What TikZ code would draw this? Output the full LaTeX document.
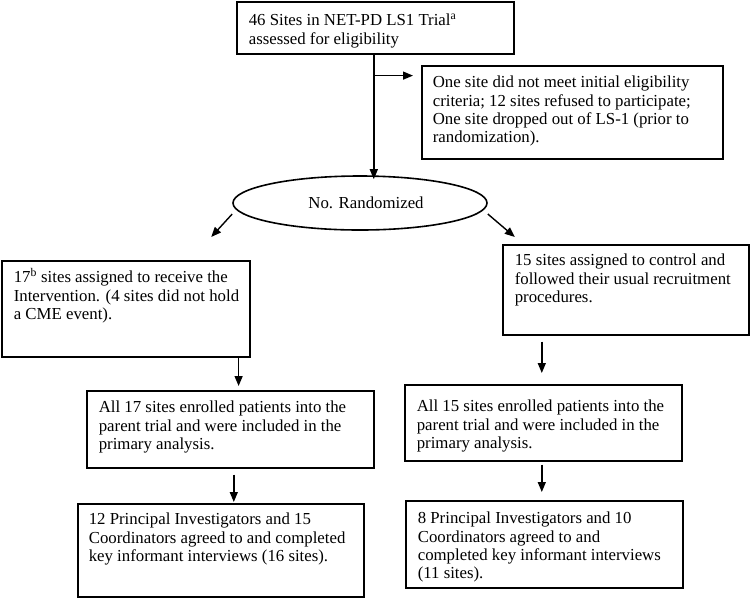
\documentclass[tikz,border=0pt]{standalone}
\usepackage{fontspec}
\setmainfont{Liberation Serif}
\usetikzlibrary{shapes.geometric,arrows.meta,calc}
\newcommand\bxt[5]{\parbox[c][#2][t]{#1}{\raggedright\leftskip=#3\relax\rule{0pt}{#4}#5}}
\begin{document}
\begin{tikzpicture}[x=1pt,y=-1pt,
  font=\fontsize{16.8}{18.3}\selectfont,
  boxn/.style={draw, line width=1.6pt, inner sep=0pt, anchor=north west},
  arr/.style={line width=1.4pt, -{Triangle[length=10pt,width=8pt]}}]
\useasboundingbox (0,0) rectangle (751,598);

\node[boxn] (top) at (236,1) {\bxt{277pt}{52pt}{12pt}{24pt}{46 Sites in NET-PD LS1 Trial\textsuperscript{a}\\assessed for eligibility}};
\node[boxn] (side) at (421,65) {\bxt{301pt}{93pt}{11pt}{22pt}{One site did not meet initial eligibility\\criteria; 12 sites refused to participate;\\One site dropped out of LS-1 (prior to\\randomization).}};
\node[draw, ellipse, line width=1.6pt, minimum width=254pt, minimum height=54pt, inner sep=0pt] (rand) at (360,203) {\hspace*{12pt}No. Randomized};
\node[boxn] (left) at (1,260) {\bxt{248pt}{96pt}{12pt}{22pt}{17\textsuperscript{b} sites assigned to receive the\\Intervention. (4 sites did not hold\\a CME event).}};
\node[boxn] (right) at (502,244) {\bxt{246pt}{90pt}{12pt}{21pt}{15 sites assigned to control and\\followed their usual recruitment\\procedures.}};
\node[boxn] (lmid) at (86,390) {\bxt{287pt}{77pt}{12pt}{22pt}{All 17 sites enrolled patients into the\\parent trial and were included in the\\primary analysis.}};
\node[boxn] (rmid) at (404,384) {\bxt{277pt}{76pt}{12pt}{27pt}{All 15 sites enrolled patients into the\\parent trial and were included in the\\primary analysis.}};
\node[boxn] (lbot) at (77,503) {\bxt{286pt}{93pt}{11pt}{21pt}{12 Principal Investigators and 15\\Coordinators agreed to and completed\\key informant interviews (16 sites).}};
\node[boxn] (rbot) at (405,500) {\bxt{277pt}{87pt}{12pt}{23pt}{8 Principal Investigators and 10\\Coordinators agreed to and\\completed key informant interviews\\(11 sites).}};

\coordinate (vtop) at ($(top.south)+(-1.5,0)$);
\coordinate (tee) at ($(top.south)+(-1.5,21)$);
\draw[arr, shorten >=-4pt] (vtop) -- (vtop |- rand.north);
\draw[arr, shorten >=8pt] (tee) -- (tee -| side.west);

\draw[arr] ($(rand.west)+(0,11)$) -- ($(rand.west)+(-21,34)$);
\draw[arr] ($(rand.east)+(0,11)$) -- ($(rand.east)+(27,34)$);

\coordinate (a5) at ($(left.south east)+(-12,0)$);
\draw[arr, shorten >=4pt] (a5) -- (a5 |- lmid.north);
\coordinate (a6) at ($(rmid.north)+(-1.5,0)$);
\draw[arr, shorten <=6pt, shorten >=11pt] (a6 |- right.south) -- (a6);
\coordinate (a7) at ($(lmid.south)+(3.5,0)$);
\draw[arr, shorten <=6pt, shorten >=1pt] (a7) -- (a7 |- lbot.north);
\coordinate (a8) at ($(rmid.south)+(-1.5,0)$);
\draw[arr, shorten <=3pt, shorten >=8pt] (a8) -- (a8 |- rbot.north);
\end{tikzpicture}
\end{document}
